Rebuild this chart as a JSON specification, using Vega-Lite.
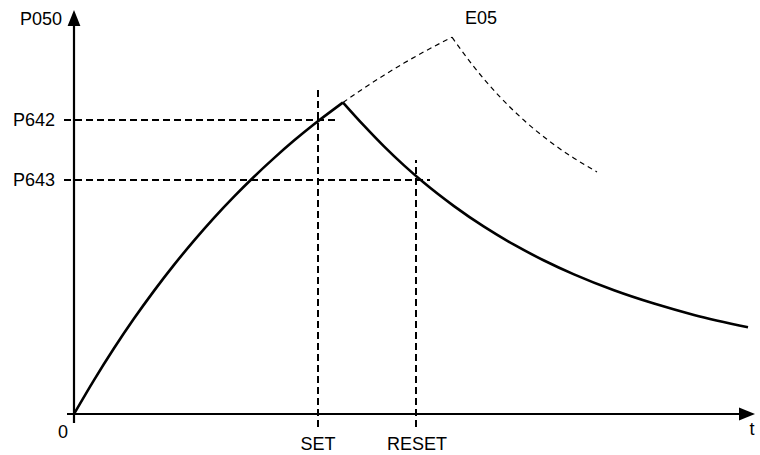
{
  "$schema": "https://vega.github.io/schema/vega-lite/v6.json",
  "width": 681,
  "height": 404,
  "autosize": {"type": "none"},
  "padding": {"left": 74, "top": 10, "right": 5, "bottom": 41},
  "background": "white",
  "config": {"view": {"stroke": null}, "font": "Liberation Sans"},
  "datasets": {
    "curves": [
      {"series": "rise", "kind": "solid", "t": 0, "v": 0},
      {"series": "rise", "kind": "solid", "t": 20, "v": 33.9},
      {"series": "rise", "kind": "solid", "t": 40, "v": 65.7},
      {"series": "rise", "kind": "solid", "t": 60, "v": 95.4},
      {"series": "rise", "kind": "solid", "t": 80, "v": 123.1},
      {"series": "rise", "kind": "solid", "t": 100, "v": 149.1},
      {"series": "rise", "kind": "solid", "t": 120, "v": 173.4},
      {"series": "rise", "kind": "solid", "t": 140, "v": 196.2},
      {"series": "rise", "kind": "solid", "t": 160, "v": 217.4},
      {"series": "rise", "kind": "solid", "t": 180, "v": 237.3},
      {"series": "rise", "kind": "solid", "t": 200, "v": 255.9},
      {"series": "rise", "kind": "solid", "t": 220, "v": 273.4},
      {"series": "rise", "kind": "solid", "t": 240, "v": 289.7},
      {"series": "rise", "kind": "solid", "t": 260, "v": 304.9},
      {"series": "rise", "kind": "solid", "t": 269, "v": 311.5},
      {"series": "fall", "kind": "solid", "t": 269, "v": 311.5},
      {"series": "fall", "kind": "solid", "t": 290, "v": 288.3},
      {"series": "fall", "kind": "solid", "t": 310, "v": 267.6},
      {"series": "fall", "kind": "solid", "t": 330, "v": 248.6},
      {"series": "fall", "kind": "solid", "t": 350, "v": 231.2},
      {"series": "fall", "kind": "solid", "t": 380, "v": 207.9},
      {"series": "fall", "kind": "solid", "t": 410, "v": 187.3},
      {"series": "fall", "kind": "solid", "t": 440, "v": 169.3},
      {"series": "fall", "kind": "solid", "t": 470, "v": 153.5},
      {"series": "fall", "kind": "solid", "t": 500, "v": 139.6},
      {"series": "fall", "kind": "solid", "t": 540, "v": 123.7},
      {"series": "fall", "kind": "solid", "t": 580, "v": 110.4},
      {"series": "fall", "kind": "solid", "t": 620, "v": 99.1},
      {"series": "fall", "kind": "solid", "t": 674, "v": 86.8},
      {"series": "erise", "kind": "dash", "t": 269, "v": 311.5},
      {"series": "erise", "kind": "dash", "t": 290, "v": 325.9},
      {"series": "erise", "kind": "dash", "t": 310, "v": 338.8},
      {"series": "erise", "kind": "dash", "t": 330, "v": 350.9},
      {"series": "erise", "kind": "dash", "t": 350, "v": 362.2},
      {"series": "erise", "kind": "dash", "t": 378, "v": 376.8},
      {"series": "efall", "kind": "dash", "t": 378, "v": 376.8},
      {"series": "efall", "kind": "dash", "t": 400, "v": 347.1},
      {"series": "efall", "kind": "dash", "t": 425, "v": 318.1},
      {"series": "efall", "kind": "dash", "t": 450, "v": 293.7},
      {"series": "efall", "kind": "dash", "t": 475, "v": 273.1},
      {"series": "efall", "kind": "dash", "t": 500, "v": 255.8},
      {"series": "efall", "kind": "dash", "t": 523, "v": 242}
    ],
    "refs": [
      {"name": "P642", "t": -10, "t2": 261, "v": 294, "v2": 294},
      {"name": "P643", "t": -10, "t2": 356, "v": 234, "v2": 234},
      {"name": "SET", "t": 244, "t2": 244, "v": -13, "v2": 324},
      {"name": "RESET", "t": 342, "t2": 342, "v": -13, "v2": 254}
    ],
    "axes": [
      {"name": "y", "t": 0, "t2": 0, "v": -9, "v2": 396},
      {"name": "x", "t": -7, "t2": 675, "v": 0, "v2": 0}
    ],
    "arrows": [
      {"name": "up", "t": 0, "v": 404},
      {"name": "right", "t": 681, "v": 0}
    ],
    "labels": [
      {"text": "P050", "t": -12, "v": 394, "align": "right"},
      {"text": "P642", "t": -19, "v": 293, "align": "right"},
      {"text": "P643", "t": -19, "v": 233, "align": "right"},
      {"text": "0", "t": -11, "v": -19, "align": "center"},
      {"text": "SET", "t": 244, "v": -31, "align": "center"},
      {"text": "RESET", "t": 343, "v": -31, "align": "center"},
      {"text": "t", "t": 678, "v": -16, "align": "center"},
      {"text": "E05", "t": 407, "v": 395, "align": "center"}
    ]
  },
  "layer": [
    {
      "data": {"name": "refs"},
      "mark": {"type": "rule", "color": "black", "strokeWidth": 2, "strokeDash": [7, 4], "clip": false},
      "encoding": {
        "x": {"field": "t", "type": "quantitative", "scale": {"domain": [0, 681], "nice": false, "zero": false}, "axis": null},
        "x2": {"field": "t2"},
        "y": {"field": "v", "type": "quantitative", "scale": {"domain": [0, 404], "nice": false, "zero": false}, "axis": null},
        "y2": {"field": "v2"}
      }
    },
    {
      "data": {"name": "axes"},
      "mark": {"type": "rule", "color": "black", "strokeWidth": 2.2, "clip": false},
      "encoding": {
        "x": {"field": "t", "type": "quantitative"},
        "x2": {"field": "t2"},
        "y": {"field": "v", "type": "quantitative"},
        "y2": {"field": "v2"}
      }
    },
    {
      "data": {"name": "arrows"},
      "transform": [{"filter": "datum.name === 'up'"}],
      "mark": {"type": "point", "filled": true, "color": "black", "opacity": 1, "size": 256, "shape": "M0,0 L-0.8,2 L0.8,2 Z", "clip": false},
      "encoding": {
        "x": {"field": "t", "type": "quantitative"},
        "y": {"field": "v", "type": "quantitative"}
      }
    },
    {
      "data": {"name": "arrows"},
      "transform": [{"filter": "datum.name === 'right'"}],
      "mark": {"type": "point", "filled": true, "color": "black", "opacity": 1, "size": 256, "shape": "M0,0 L-2,-0.8 L-2,0.8 Z", "clip": false},
      "encoding": {
        "x": {"field": "t", "type": "quantitative"},
        "y": {"field": "v", "type": "quantitative"}
      }
    },
    {
      "data": {"name": "curves"},
      "transform": [{"filter": "datum.kind === 'dash'"}],
      "mark": {"type": "line", "color": "black", "strokeWidth": 1.2, "strokeDash": [5, 4], "interpolate": "monotone", "clip": false},
      "encoding": {
        "x": {"field": "t", "type": "quantitative"},
        "y": {"field": "v", "type": "quantitative"},
        "detail": {"field": "series"}
      }
    },
    {
      "data": {"name": "curves"},
      "transform": [{"filter": "datum.kind === 'solid'"}],
      "mark": {"type": "line", "color": "black", "strokeWidth": 2.6, "interpolate": "monotone", "clip": false},
      "encoding": {
        "x": {"field": "t", "type": "quantitative"},
        "y": {"field": "v", "type": "quantitative"},
        "detail": {"field": "series"}
      }
    },
    {
      "data": {"name": "labels"},
      "transform": [{"filter": "datum.align === 'right'"}],
      "mark": {"type": "text", "color": "black", "font": "Liberation Sans", "fontSize": 18, "align": "right", "baseline": "middle", "clip": false},
      "encoding": {
        "x": {"field": "t", "type": "quantitative"},
        "y": {"field": "v", "type": "quantitative"},
        "text": {"field": "text"}
      }
    },
    {
      "data": {"name": "labels"},
      "transform": [{"filter": "datum.align === 'center'"}],
      "mark": {"type": "text", "color": "black", "font": "Liberation Sans", "fontSize": 18, "align": "center", "baseline": "middle", "clip": false},
      "encoding": {
        "x": {"field": "t", "type": "quantitative"},
        "y": {"field": "v", "type": "quantitative"},
        "text": {"field": "text"}
      }
    }
  ]
}
